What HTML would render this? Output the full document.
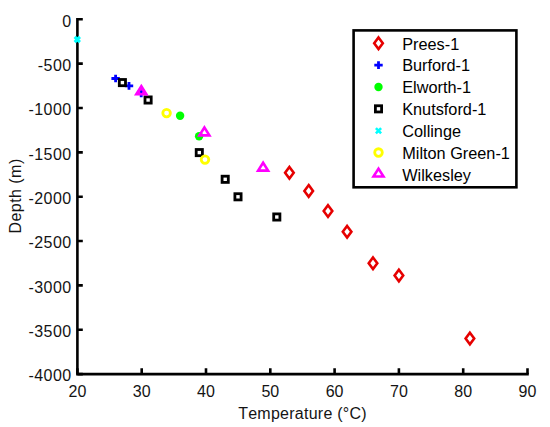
<!DOCTYPE html>
<html><head><meta charset="utf-8"><style>
html,body{margin:0;padding:0;background:#fff;}
body{width:550px;height:427px;overflow:hidden;}
svg{display:block;font-family:"Liberation Sans",sans-serif;font-kerning:none;}
text{font-kerning:none;}
</style></head><body>
<svg width="550" height="427" viewBox="0 0 550 427">
<rect width="550" height="427" fill="#fff"/>
<path d="M77.4,18.0V374.1H528.8" fill="none" stroke="#000" stroke-width="2.6" stroke-linecap="butt" stroke-linejoin="miter"/><path d="M77.4,19.30H82.8M77.4,63.65H82.8M77.4,108.00H82.8M77.4,152.35H82.8M77.4,196.70H82.8M77.4,241.05H82.8M77.4,285.40H82.8M77.4,329.75H82.8M77.4,374.10H82.8M77.40,374.1V368.2M141.70,374.1V368.2M206.00,374.1V368.2M270.30,374.1V368.2M334.60,374.1V368.2M398.90,374.1V368.2M463.20,374.1V368.2M527.50,374.1V368.2" stroke="#000" stroke-width="2.6" fill="none"/><g font-size="16" fill="#141414"><text x="71.65" y="26.60" text-anchor="end" letter-spacing="0.45">0</text><text x="71.65" y="70.95" text-anchor="end" letter-spacing="0.45">-500</text><text x="71.65" y="115.30" text-anchor="end" letter-spacing="0.45">-1000</text><text x="71.65" y="159.65" text-anchor="end" letter-spacing="0.45">-1500</text><text x="71.65" y="204.00" text-anchor="end" letter-spacing="0.45">-2000</text><text x="71.65" y="248.35" text-anchor="end" letter-spacing="0.45">-2500</text><text x="71.65" y="292.70" text-anchor="end" letter-spacing="0.45">-3000</text><text x="71.65" y="337.05" text-anchor="end" letter-spacing="0.45">-3500</text><text x="71.65" y="381.40" text-anchor="end" letter-spacing="0.45">-4000</text><text x="77.40" y="397" text-anchor="middle">20</text><text x="141.70" y="397" text-anchor="middle">30</text><text x="206.00" y="397" text-anchor="middle">40</text><text x="270.30" y="397" text-anchor="middle">50</text><text x="334.60" y="397" text-anchor="middle">60</text><text x="398.90" y="397" text-anchor="middle">70</text><text x="463.20" y="397" text-anchor="middle">80</text><text x="527.50" y="397" text-anchor="middle">90</text></g><text x="302.525" y="419.3" text-anchor="middle" font-size="16" letter-spacing="0.25" fill="#141414">Temperature (°C)</text><text transform="translate(20.6,195.92499999999998) rotate(-90)" text-anchor="middle" font-size="16" letter-spacing="0.45" fill="#141414">Depth (m)</text>
<polygon points="289.4,166.89999999999998 293.7,172.7 289.4,178.5 285.09999999999997,172.7" fill="none" stroke="#e60000" stroke-width="2.6" stroke-linejoin="miter"/><polygon points="308.7,185.1 313.0,190.9 308.7,196.70000000000002 304.4,190.9" fill="none" stroke="#e60000" stroke-width="2.6" stroke-linejoin="miter"/><polygon points="328,205.29999999999998 332.3,211.1 328,216.9 323.7,211.1" fill="none" stroke="#e60000" stroke-width="2.6" stroke-linejoin="miter"/><polygon points="347.1,225.89999999999998 351.40000000000003,231.7 347.1,237.5 342.8,231.7" fill="none" stroke="#e60000" stroke-width="2.6" stroke-linejoin="miter"/><polygon points="373,257.5 377.3,263.3 373,269.1 368.7,263.3" fill="none" stroke="#e60000" stroke-width="2.6" stroke-linejoin="miter"/><polygon points="398.9,269.7 403.2,275.5 398.9,281.3 394.59999999999997,275.5" fill="none" stroke="#e60000" stroke-width="2.6" stroke-linejoin="miter"/><polygon points="469.9,332.7 474.2,338.5 469.9,344.3 465.59999999999997,338.5" fill="none" stroke="#e60000" stroke-width="2.6" stroke-linejoin="miter"/><path d="M111.39999999999999,78.5H119.8M115.6,74.7V82.3" stroke="#0000ff" stroke-width="2.8" fill="none"/><path d="M124.8,85.9H133.2M129,82.10000000000001V89.7" stroke="#0000ff" stroke-width="2.8" fill="none"/><path d="M137.0,93.5H145.39999999999998M141.2,89.7V97.3" stroke="#0000ff" stroke-width="2.8" fill="none"/><circle cx="180.1" cy="115.8" r="4.2" fill="#00ff00"/><circle cx="199.1" cy="136.2" r="4.2" fill="#00ff00"/><rect x="119.30000000000001" y="79.5" width="6.2" height="6.2" fill="none" stroke="#000" stroke-width="2.8"/><rect x="145.0" y="96.9" width="6.2" height="6.2" fill="none" stroke="#000" stroke-width="2.8"/><rect x="196.20000000000002" y="149.5" width="6.2" height="6.2" fill="none" stroke="#000" stroke-width="2.8"/><rect x="222.1" y="176.20000000000002" width="6.2" height="6.2" fill="none" stroke="#000" stroke-width="2.8"/><rect x="234.9" y="193.70000000000002" width="6.2" height="6.2" fill="none" stroke="#000" stroke-width="2.8"/><rect x="273.7" y="213.9" width="6.2" height="6.2" fill="none" stroke="#000" stroke-width="2.8"/><circle cx="166.6" cy="113.1" r="3.8" fill="none" stroke="#ffff00" stroke-width="2.8"/><circle cx="205" cy="159.6" r="3.8" fill="none" stroke="#ffff00" stroke-width="2.8"/><polygon points="263.1,162.7 268.1,170.6 258.1,170.6" fill="none" stroke="#ff00ff" stroke-width="2.6" stroke-linejoin="miter"/><polygon points="204.4,127.50000000000001 209.4,135.4 199.4,135.4" fill="none" stroke="#ff00ff" stroke-width="2.6" stroke-linejoin="miter"/><polygon points="141.3,85.2 147.2,94.6 135.4,94.6" fill="#ff00ff" stroke="#ff00ff" stroke-width="1.6" stroke-linejoin="miter"/><circle cx="141.2" cy="91.8" r="1.2" fill="#0000ff"/><path d="M74.7,36.9L79.89999999999999,42.1M74.7,42.1L79.89999999999999,36.9" stroke="#00ffff" stroke-width="3.1" fill="none"/>
<rect x="353.6" y="30.4" width="162.8" height="156.9" fill="#fff" stroke="#000" stroke-width="2.6"/><polygon points="378.5,37.5 382.8,43.3 378.5,49.099999999999994 374.2,43.3" fill="none" stroke="#e60000" stroke-width="2.6" stroke-linejoin="miter"/><text transform="translate(402.2,49.60) scale(1.0,1)" font-size="16.3" letter-spacing="0.0" fill="#000">Prees-1</text><path d="M374.3,65.15H382.7M378.5,61.35000000000001V68.95" stroke="#0000ff" stroke-width="2.8" fill="none"/><text transform="translate(402.2,71.45) scale(1.0,1)" font-size="16.3" letter-spacing="0.0" fill="#000">Burford-1</text><circle cx="378.5" cy="87.0" r="4.2" fill="#00ff00"/><text transform="translate(402.2,93.30) scale(1.0,1)" font-size="16.3" letter-spacing="0.0" fill="#000">Elworth-1</text><rect x="375.4" y="105.75000000000001" width="6.2" height="6.2" fill="none" stroke="#000" stroke-width="2.8"/><text transform="translate(402.2,115.15) scale(1.0,1)" font-size="16.3" letter-spacing="0.0" fill="#000">Knutsford-1</text><path d="M375.9,128.1L381.1,133.29999999999998M375.9,133.29999999999998L381.1,128.1" stroke="#00ffff" stroke-width="2.6" fill="none"/><text transform="translate(402.2,137.00) scale(1.0,1)" font-size="16.3" letter-spacing="0.0" fill="#000">Collinge</text><circle cx="378.5" cy="152.55" r="3.8" fill="none" stroke="#ffff00" stroke-width="2.8"/><text transform="translate(402.2,158.85) scale(1.0,1)" font-size="16.3" letter-spacing="0.0" fill="#000">Milton Green-1</text><polygon points="378.5,168.6 383.5,176.5 373.5,176.5" fill="none" stroke="#ff00ff" stroke-width="2.6" stroke-linejoin="miter"/><text transform="translate(402.2,180.70) scale(1.0,1)" font-size="16.3" letter-spacing="0.0" fill="#000">Wilkesley</text>
</svg>
</body></html>
